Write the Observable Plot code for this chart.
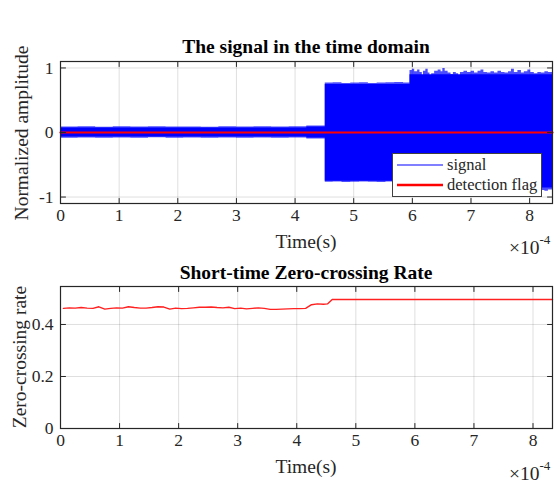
<!DOCTYPE html>
<html>
<head>
<meta charset="utf-8">
<script src="https://cdn.jsdelivr.net/npm/d3@7"></script>
<script src="https://cdn.jsdelivr.net/npm/@observablehq/plot@0.6"></script>
<style>
  html, body { margin: 0; padding: 0; background: #fff; overflow: hidden; }
  #fig { position: relative; width: 557px; height: 498px; font-family: "Liberation Serif", "Times New Roman", serif; color: #262626; }
  #fig > svg { position: absolute; left: 0; }
  .lbl { position: absolute; white-space: nowrap; font-size: 19.5px; line-height: 1; }
  .ttl { font-weight: bold; color: #000; }
  .c { transform: translate(-50%, -50%); }
  .rot { transform: translate(-50%, -50%) rotate(-90deg); }
  .exp sup { font-size: 13px; position: relative; top: -2px; }
  #legend { position: absolute; left: 392px; top: 153px; width: 148px; height: 42px; background: #fff; border: 1px solid #404040; font-size: 16.5px; }
  #legend .row { position: absolute; left: 4px; height: 20px; display: flex; align-items: center; white-space: nowrap; }
  #legend .sw { flex: none; width: 46px; margin-right: 4px; }
</style>
</head>
<body>
<div id="fig"></div>
<script>
// Time axis values are in units of 1e-4 s (the axes show a ×10^-4 multiplier).

// Signal envelope: base level of each section (step-wise)
const coreTime = [0, 4.2, 4.515, 5.96, 8.39];
const coreHi   = [0.07, 0.085, 0.745, 0.895, 0.895];
const coreLo   = [-0.07, -0.085, -0.755, -0.86, -0.86];

// Signal envelope: sample peaks (step-wise)
const peakTime = [
  0, 0.3, 0.6, 0.9, 1.2, 1.5, 1.8, 2.1, 2.4, 2.7, 3.0, 3.3, 3.6, 3.9, 4.2,
  4.515, 4.65, 4.8, 4.95, 5.1, 5.25, 5.4, 5.55, 5.7, 5.85,
  5.96, 6.0, 6.04, 6.09, 6.13, 6.17, 6.19, 6.23, 6.27, 6.3, 6.33, 6.38, 6.44, 6.49, 6.52,
  6.56, 6.61, 6.66, 6.7, 6.75, 6.79, 6.82, 6.88, 6.94, 7.0, 7.06, 7.12, 7.17, 7.22, 7.28,
  7.34, 7.4, 7.46, 7.52, 7.58, 7.64, 7.69, 7.74, 7.8, 7.86, 7.91, 7.97, 8.02, 8.08, 8.14,
  8.2, 8.26, 8.32, 8.39
];
const peakHi = [
  0.085, 0.09, 0.082, 0.088, 0.086, 0.09, 0.084, 0.087, 0.083, 0.089, 0.086, 0.09, 0.085, 0.088, 0.1,
  0.765, 0.77, 0.76, 0.765, 0.77, 0.76, 0.765, 0.77, 0.775, 0.765,
  0.96, 0.98, 0.94, 0.97, 0.93, 0.83, 0.95, 0.98, 0.92, 0.8, 0.91, 0.95, 0.97, 0.94, 0.99,
  0.95, 0.92, 0.9, 0.93, 0.91, 0.84, 0.93, 0.95, 0.93, 0.95, 0.92, 0.95, 0.97, 0.93, 0.92,
  0.94, 0.92, 0.95, 0.93, 0.92, 0.94, 0.98, 0.93, 0.96, 0.92, 0.94, 0.97, 0.93, 0.91, 0.93,
  0.92, 0.94, 0.93, 0.93
];
const peakLo = [
  -0.088, -0.084, -0.09, -0.085, -0.089, -0.083, -0.088, -0.086, -0.09, -0.084, -0.088, -0.085, -0.089, -0.087, -0.1,
  -0.77, -0.765, -0.775, -0.77, -0.765, -0.77, -0.775, -0.765, -0.77, -0.77,
  -0.9, -0.88, -0.91, -0.89, -0.92, -0.88, -0.9, -0.91, -0.87, -0.9, -0.92, -0.89, -0.9, -0.88, -0.91,
  -0.9, -0.89, -0.92, -0.88, -0.9, -0.91, -0.89, -0.87, -0.9, -0.92, -0.89, -0.9, -0.88, -0.91, -0.9,
  -0.89, -0.92, -0.88, -0.9, -0.91, -0.89, -0.9, -0.92, -0.88, -0.9, -0.91, -0.89, -0.9, -0.92, -0.88,
  -0.9, -0.91, -0.89, -0.9
];

// Detection flag (never raised)
const flagTime  = [0, 8.39];
const flagValue = [0, 0];

// Short-time zero-crossing rate
const zcrTime = [
  0.05, 0.15, 0.25, 0.35, 0.45, 0.55, 0.65, 0.75, 0.85, 0.95,
  1.05, 1.15, 1.25, 1.35, 1.45, 1.55, 1.65, 1.75, 1.85, 1.95,
  2.05, 2.15, 2.25, 2.35, 2.45, 2.55, 2.65, 2.75, 2.85, 2.95,
  3.05, 3.15, 3.25, 3.35, 3.45, 3.55, 3.65, 3.75, 3.85, 3.95,
  4.05, 4.15, 4.25, 4.35, 4.45, 4.52, 4.6, 8.33
];
const zcrValue = [
  0.462, 0.464, 0.463, 0.465, 0.463, 0.462, 0.468, 0.459, 0.462, 0.464,
  0.463, 0.468, 0.465, 0.463, 0.463, 0.465, 0.468, 0.467, 0.459, 0.463,
  0.461, 0.462, 0.464, 0.466, 0.466, 0.467, 0.465, 0.464, 0.466, 0.461,
  0.463, 0.460, 0.462, 0.464, 0.462, 0.458, 0.458, 0.459, 0.460, 0.461,
  0.461, 0.462, 0.476, 0.479, 0.478, 0.479, 0.496, 0.496
];

// Axis ticks
const timeTicks = [0, 1, 2, 3, 4, 5, 6, 7, 8];
const ampTicks  = [-1, 0, 1];
const zcrTicks  = [0, 0.2, 0.4];

const E = 1e-4;
const rows = (t, cols) => t.map((v, i) => Object.fromEntries([["t", v * E], ...Object.entries(cols).map(([k, a]) => [k, a[i]])]));
const core = rows(coreTime, {hi: coreHi, lo: coreLo});
const peak = rows(peakTime, {hi: peakHi, lo: peakLo});
const flag = rows(flagTime, {v: flagValue});
const zcr  = rows(zcrTime, {v: zcrValue});

const ink = "#262626";
// inward tick stroke for the box axes
const tickShape = {draw(ctx, l) { ctx.moveTo(0, 0); ctx.lineTo(0, -l); }};
const xT = timeTicks.map(d => d * E);

function boxTicks(yT) {
  const o = {length: 5, anchor: "start", shape: tickShape, stroke: ink, strokeWidth: 1};
  return [
    Plot.vector(xT, {...o, x: d => d, frameAnchor: "bottom", rotate: 0}),
    Plot.vector(xT, {...o, x: d => d, frameAnchor: "top", rotate: 180}),
    Plot.vector(yT, {...o, y: d => d, frameAnchor: "left", rotate: 90}),
    Plot.vector(yT, {...o, y: d => d, frameAnchor: "right", rotate: -90})
  ];
}

function panel({marginTop, marginBottom, xMax, yDomain, yT, yFmt, marks}) {
  return Plot.plot({
    width: 557, height: 249,
    marginLeft: 60, marginRight: 5, marginTop, marginBottom,
    style: {fontFamily: "'Liberation Serif', 'Times New Roman', serif", fontSize: "17.5px", color: ink, background: "transparent", overflow: "visible"},
    x: {domain: [0, xMax * E]},
    y: {domain: yDomain},
    marks: [
      Plot.gridX(xT, {stroke: ink, strokeOpacity: 0.15}),
      Plot.gridY(yT, {stroke: ink, strokeOpacity: 0.15}),
      ...marks,
      Plot.frame({stroke: ink, strokeWidth: 1.2}),
      Plot.axisX(xT, {tickSize: 0, tickPadding: 5, label: null, tickFormat: d => String(Math.round(d / E)), fill: ink}),
      Plot.axisY(yT, {tickSize: 0, tickPadding: 7, label: null, tickFormat: yFmt, fill: ink}),
      ...boxTicks(yT)
    ]
  });
}

const signalPanel = panel({
  marginTop: 61, marginBottom: 46, xMax: 8.39, yDomain: [-1.1, 1.1], yT: ampTicks,
  yFmt: d => (d < 0 ? "-" + Math.abs(d) : String(d)),
  marks: [
    Plot.areaY(peak, {x: "t", y1: "lo", y2: "hi", curve: "step-after", fill: "#0000ff", fillOpacity: 0.7}),
    Plot.areaY(core, {x: "t", y1: "lo", y2: "hi", curve: "step-after", fill: "#0000ff"}),
    Plot.lineY(flag, {x: "t", y: "v", stroke: "#ff0000", strokeWidth: 2.2})
  ]
});

const zcrPanel = panel({
  marginTop: 37, marginBottom: 70, xMax: 8.33, yDomain: [0, 0.546], yT: zcrTicks,
  yFmt: d => String(d),
  marks: [
    Plot.lineY(zcr, {x: "t", y: "v", stroke: "#ff2020", strokeWidth: 1.4})
  ]
});

const fig = document.getElementById("fig");
signalPanel.style.top = "0px";
zcrPanel.style.top = "249px";
fig.append(signalPanel, zcrPanel);

function label(text, x, y, cls) {
  const d = document.createElement("div");
  d.className = "lbl " + cls;
  d.style.left = x + "px";
  d.style.top = y + "px";
  d.innerHTML = text;
  fig.append(d);
}
label("The signal in the time domain", 306, 47, "ttl c");
label("Normalized amplitude", 22, 133, "rot");
label("Time(s)", 306, 242, "c");
label("&times;10<sup>-4</sup>", 509, 235, "exp");
label("Short-time Zero-crossing Rate", 306, 273, "ttl c");
label("Zero-crossing rate", 20, 357, "rot");
label("Time(s)", 306, 467, "c");
label("&times;10<sup>-4</sup>", 509, 461, "exp");

// legend for the signal panel
const legend = document.createElement("div");
legend.id = "legend";
const entries = [["signal", "#7f7fff", 2], ["detection flag", "#ff0000", 2.5]];
entries.forEach(([name, color, w], i) => {
  const r = document.createElement("div");
  r.className = "row";
  r.style.top = (1 + i * 20) + "px";
  r.innerHTML = `<svg class="sw" width="46" height="20"><line x1="0" x2="46" y1="10" y2="10" stroke="${color}" stroke-width="${w}"/></svg><span>${name}</span>`;
  legend.append(r);
});
fig.append(legend);
</script>
</body>
</html>
